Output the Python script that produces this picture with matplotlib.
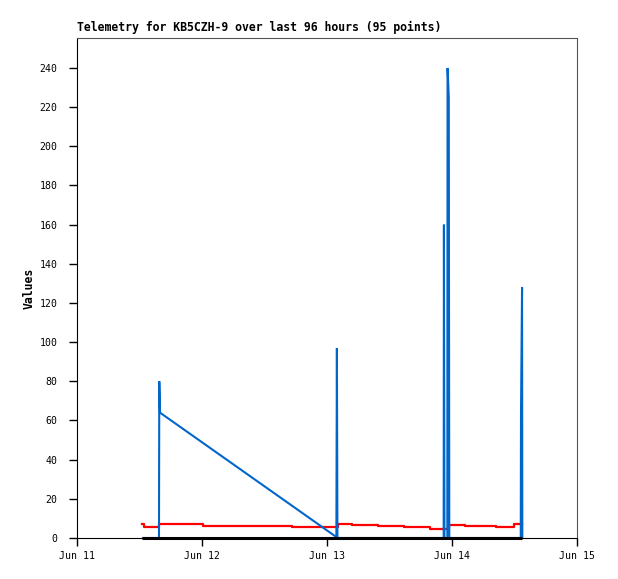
import matplotlib
matplotlib.use("Agg")
import matplotlib.pyplot as plt
import matplotlib.dates as mdates
import pandas as pd

t0 = pd.Timestamp("2024-06-11 00:00")

# Blue series (hours since Jun 11 00:00, value)
blue_hours = [12.54, 15.74, 15.80, 15.94, 49.80, 49.90, 50.00, 70.40, 70.45, 70.55,
              71.10, 71.15, 71.38, 71.48, 85.20, 85.25, 85.45, 85.50]
blue_vals = [0, 0, 80, 64, 0.5, 97, 0, 0, 160, 0,
             0, 240, 225, 0, 0, 64, 128, 0]

# Red series (step values)
red_hours = [12.54, 12.86, 15.74, 24.2, 41.3, 50.1, 52.8, 57.8, 62.8, 67.8,
             70.5, 71.4, 74.5, 80.4, 83.9, 85.4]
red_vals = [7.0, 5.8, 7.0, 6.3, 5.8, 7.0, 6.5, 6.0, 5.5, 4.8,
            4.8, 6.8, 6.3, 5.8, 7.0, 7.0]

# Black series (constant zero)
black_hours = [12.54, 85.4]
black_vals = [0, 0]

yticks = list(range(0, 241, 20))

def to_dt(hours):
    return [t0 + pd.Timedelta(hours=h) for h in hours]

fig = plt.figure(figsize=(6.18, 5.79), dpi=100)
ax = fig.add_axes([77/618, 41/579, 500/618, 500/579])

ax.plot(to_dt(red_hours), red_vals, color="#ff0000", lw=1.6, drawstyle="steps-post", zorder=2)
ax.plot(to_dt(blue_hours), blue_vals, color="#0066cc", lw=1.5, zorder=3,
        solid_joinstyle="bevel", solid_capstyle="butt")
ax.plot(to_dt(black_hours), black_vals, color="black", lw=2.2, zorder=4,
        solid_capstyle="butt", clip_on=False)

ax.set_xlim(t0, t0 + pd.Timedelta(days=4))
ax.set_ylim(0, 255.3)
ax.set_yticks(yticks)
ax.xaxis.set_major_locator(mdates.DayLocator())
ax.xaxis.set_major_formatter(mdates.DateFormatter("%b %d"))

mono = "DejaVu Sans Mono"
for lab in ax.get_xticklabels() + ax.get_yticklabels():
    lab.set_family(mono)
    lab.set_fontsize(7.1)
ax.tick_params(axis="both", direction="out", length=5.5, width=1, colors="black")
ax.tick_params(axis="y", pad=8.5)
ax.tick_params(axis="x", pad=4)

for s in ["left", "bottom"]:
    ax.spines[s].set_color("black")
for s in ["top", "right"]:
    ax.spines[s].set_color("#555555")

ax.set_ylabel("Values", family=mono, fontweight="bold", fontsize=8.3, labelpad=3)
fig.text(77/618, 1 - 31/579, "Telemetry for KB5CZH-9 over last 96 hours (95 points)",
         family=mono, fontweight="bold", fontsize=8.3, ha="left", va="baseline")

fig.savefig("out.png", dpi=100)
